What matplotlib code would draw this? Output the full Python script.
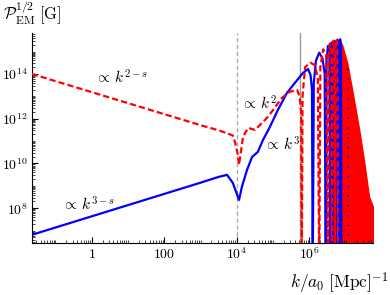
# Magnetic field spectrum, log-log, Mathematica-like styling

import numpy as np
import matplotlib
matplotlib.use('Agg')
import matplotlib.pyplot as plt
from matplotlib.ticker import FixedLocator, LogLocator, NullFormatter

plt.rcParams['mathtext.fontset'] = 'cm'
plt.rcParams['font.family'] = ['DejaVu Serif']

# log10(k) and log10(P^1/2) (dips go below the frame)
blue_logk = [-1.65, 2.98, 3.50, 3.73, 3.89, 4.06, 4.14, 4.28, 4.42, 4.58, 4.72,
             4.91, 5.13, 5.38, 5.60, 5.82, 5.96, 6.03, 6.07, 6.09,
             6.12, 6.18, 6.27, 6.36, 6.42, 6.45,
             6.47, 6.51, 6.55, 6.57,
             6.59, 6.61, 6.63, 6.65,
             6.67, 6.69, 6.71, 6.73,
             6.75, 6.77, 6.79, 6.81,
             6.83, 6.845, 6.865, 6.88]
blue_logp = [6.81, 9.13, 9.40, 9.49, 9.13, 8.37, 8.96, 9.71, 10.29, 10.52, 11.05,
             11.63, 12.39, 13.15, 13.60, 14.04, 14.22, 13.95, 13.3, 5.0,
             13.6, 14.6, 14.95, 14.7, 14.0, 5.0,
             14.6, 15.25, 14.9, 5.0,
             15.0, 15.4, 15.1, 5.0,
             15.2, 15.48, 15.2, 5.0,
             15.3, 15.53, 15.3, 5.0,
             15.3, 15.55, 15.3, 5.0]

red_logk = [-1.65, 2.98, 3.54, 3.89, 3.95, 4.02, 4.06, 4.12, 4.17, 4.31, 4.50,
            4.64, 4.83, 5.00, 5.24, 5.46, 5.66, 5.73, 5.77, 5.79,
            5.81, 5.88, 6.02, 6.15, 6.23, 6.27,
            6.30, 6.38, 6.46, 6.51,
            6.53, 6.56, 6.60, 6.62,
            6.64, 6.66, 6.69, 6.70,
            6.72, 6.745, 6.77, 6.79]
red_logp = [14.0, 11.72, 11.46, 11.25, 10.95, 10.45, 9.94, 10.6, 11.19, 11.59, 11.50,
            11.72, 12.04, 12.39, 12.93, 13.20, 13.29, 13.0, 12.3, 5.0,
            13.0, 14.3, 14.5, 14.4, 13.8, 5.0,
            14.3, 15.1, 14.85, 5.0,
            14.8, 15.35, 15.0, 5.0,
            15.2, 15.48, 15.2, 5.0,
            15.3, 15.55, 15.3, 5.0]

# envelope of the densely oscillating red part
fill_logk = [6.79, 6.85, 6.92, 7.06, 7.23, 7.39, 7.53, 7.66, 7.76, 7.90]
fill_logp = [15.56, 15.52, 15.29, 14.49, 12.97, 11.50, 10.03, 8.51, 8.11, 8.0]

dot_logk = 7.07
dot_top = 14.4

k_eq = 1e4          # dashed gray line
k_sol = 10 ** 5.74  # solid gray line

xticks = [1, 1e2, 1e4, 1e6]
xticklabels = ['$1$', '$100$', '$10^4$', '$10^6$']
yticks = [1e8, 1e10, 1e12, 1e14]
yticklabels = ['$10^{8}$', '$10^{10}$', '$10^{12}$', '$10^{14}$']

fig = plt.figure(figsize=(3.9, 2.95), dpi=100)
ax = fig.add_axes([0.0813, 0.1773, 0.876, 0.711])

blue_k = 10 ** np.array(blue_logk)
blue_p = 10 ** np.array(blue_logp)
red_k = 10 ** np.array(red_logk)
red_p = 10 ** np.array(red_logp)

ax.fill_between(10 ** np.array(fill_logk), 1e5, 10 ** np.array(fill_logp),
                color='red', lw=0, zorder=1.5)
ax.plot(blue_k, blue_p, color='blue', lw=1.6, zorder=2)
ax.plot(red_k, red_p, color='red', lw=1.6, dashes=(2.8, 1.4), zorder=3)
ax.plot([10 ** dot_logk] * 2, [1e5, 10 ** dot_top], color='blue', lw=1.3,
        linestyle=(0, (0.8, 4.6)), zorder=4)

ax.axvline(k_eq, color='#aaaaaa', lw=1.0, dashes=(3, 2), zorder=1)
ax.axvline(k_sol, color='#999999', lw=1.0, zorder=1)

ax.set_xscale('log')
ax.set_yscale('log')
ax.set_xlim(10 ** -1.65, 10 ** 7.76)
ax.set_ylim(10 ** 6.46, 10 ** 15.83)

ax.xaxis.set_major_locator(FixedLocator(xticks))
ax.set_xticklabels(xticklabels)
ax.yaxis.set_major_locator(FixedLocator(yticks))
ax.set_yticklabels(yticklabels)
for axis in (ax.xaxis, ax.yaxis):
    axis.set_minor_locator(LogLocator(base=10, subs=np.arange(1, 10), numticks=100))
    axis.set_minor_formatter(NullFormatter())

ax.tick_params(which='major', direction='in', length=4, width=0.8, labelsize=10, pad=3)
ax.tick_params(which='minor', direction='in', length=2, width=0.5)
ax.tick_params(top=False, right=False)
ax.spines['top'].set_visible(False)
ax.spines['right'].set_visible(False)

ax.text(10 ** 0.83, 10 ** 13.82, r'$\propto\, k^{2-s}$', fontsize=11, ha='center', va='center')
ax.text(10 ** -0.07, 10 ** 8.15, r'$\propto\, k^{3-s}$', fontsize=11, ha='center', va='center')
ax.text(10 ** 4.62, 10 ** 12.66, r'$\propto\, k^{2}$', fontsize=11, ha='center', va='center')
ax.text(10 ** 5.24, 10 ** 10.83, r'$\propto\, k^{3}$', fontsize=11, ha='center', va='center')

fig.text(0.008, 0.956, r'$\mathcal{P}_{\rm EM}^{1/2}\;[{\rm G}]$', fontsize=12, va='center', ha='left')
fig.text(0.997, 0.041, r'$k/a_0\;[{\rm Mpc}]^{-1}$', fontsize=12.5, va='center', ha='right')

fig.savefig('out.png', dpi=100)
